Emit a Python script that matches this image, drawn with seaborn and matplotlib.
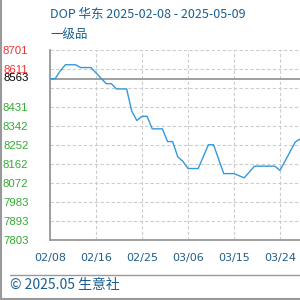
import numpy as np
import pandas as pd
import matplotlib
matplotlib.use('Agg')
import matplotlib.pyplot as plt
from matplotlib.lines import Line2D
import seaborn as sns

# data (day offset from 02/08, price)
days = list(range(0, 51))
price = [8563, 8563, 8600, 8629, 8629, 8629, 8616, 8616, 8616, 8591,
         8565, 8540, 8540, 8515, 8515, 8515, 8410, 8366, 8386, 8386,
         8327, 8327, 8327, 8267, 8267, 8195, 8174, 8140, 8140, 8140,
         8196, 8252, 8252, 8184, 8116, 8116, 8116, 8106, 8096, 8123,
         8151, 8151, 8151, 8151, 8151, 8131, 8175, 8220, 8265, 8280, 8285]
xtick_pos = [0, 9, 18, 27, 36, 45]
xtick_lab = ['02/08', '02/16', '02/25', '03/06', '03/15', '03/24']
ytick_val = [8701, 8611, 8521, 8431, 8342, 8252, 8162, 8072, 7983, 7893, 7803]
ytick_lab = ['8701', '8611', '', '8431', '8342', '8252', '8162', '8072', '7983', '7893', '7803']
base = 8563
title = 'DOP 华东 2025-02-08 - 2025-05-09'
subtitle = '一级品'
footer = '© 2025.05 生意社'

sns.set_style('white')
plt.rcParams['font.family'] = ['DejaVu Sans', 'Noto Sans CJK SC']

df = pd.DataFrame({'day': days, 'price': price})

fig = plt.figure(figsize=(3, 3), dpi=100)
ax = fig.add_axes([50/300, 60/300, 90*5.11/300, 190.5/300])

ax.set_xlim(0, 90)
ax.set_ylim(7803, 8701)
ax.set_xticks(xtick_pos)
ax.set_xticklabels(xtick_lab)
ax.set_yticks(ytick_val)
ax.set_yticklabels(ytick_lab)
ax.grid(True, color='#cccccc', linestyle=(0, (3, 2)), linewidth=0.8)
ax.axhline(base, color='#999999', linewidth=1.3, zorder=2)
sns.lineplot(data=df, x='day', y='price', ax=ax, color='#3399dd', linewidth=1.0, zorder=3)
ax.set_xlabel('')
ax.set_ylabel('')

for s in ['top', 'right']:
    ax.spines[s].set_visible(False)
for s in ['left', 'bottom']:
    ax.spines[s].set_color('#999999')
    ax.spines[s].set_linewidth(1.3)

ax.tick_params(axis='y', length=0, pad=15.5)
ax.tick_params(axis='x', length=0, pad=9, labelsize=8, labelcolor='#1f5f8b')
for i, lab in enumerate(ax.get_yticklabels()):
    lab.set_color('#ee3333' if i < 2 else '#33aa33')
    lab.set_fontfamily('Liberation Sans')
    lab.set_fontsize(8.2)
ax.annotate(str(base), xy=(0, base), xycoords=('axes fraction', 'data'),
            xytext=(-15.5, 0.5), textcoords='offset points', ha='right', va='center',
            fontsize=8.2, color='black', family='Liberation Sans')

fig.text(50/300, 1 - 14/300, title, fontsize=9, color='#1a5f8e',
         family=['Noto Sans CJK SC', 'DejaVu Sans'], va='center', ha='left')
fig.text(50/300, 1 - 35/300, subtitle, fontsize=9, color='#1a5f8e',
         family=['Noto Sans CJK SC', 'DejaVu Sans'], va='center', ha='left')
fig.text(10/300, 1 - 285/300, footer, fontsize=10, color='#1a5f8e',
         family=['Noto Sans CJK SC', 'DejaVu Sans'], va='center', ha='left')

# frame lines
fig.add_artist(Line2D([10/300, 1], [1 - 275/300, 1 - 275/300], color='#999999', linewidth=1.0))
fig.add_artist(Line2D([1/300, 1/300], [0, 1], color='#999999', linewidth=1.5))
fig.add_artist(Line2D([0, 1], [1/300, 1/300], color='#999999', linewidth=1.5))

fig.savefig('out.png', dpi=100)
